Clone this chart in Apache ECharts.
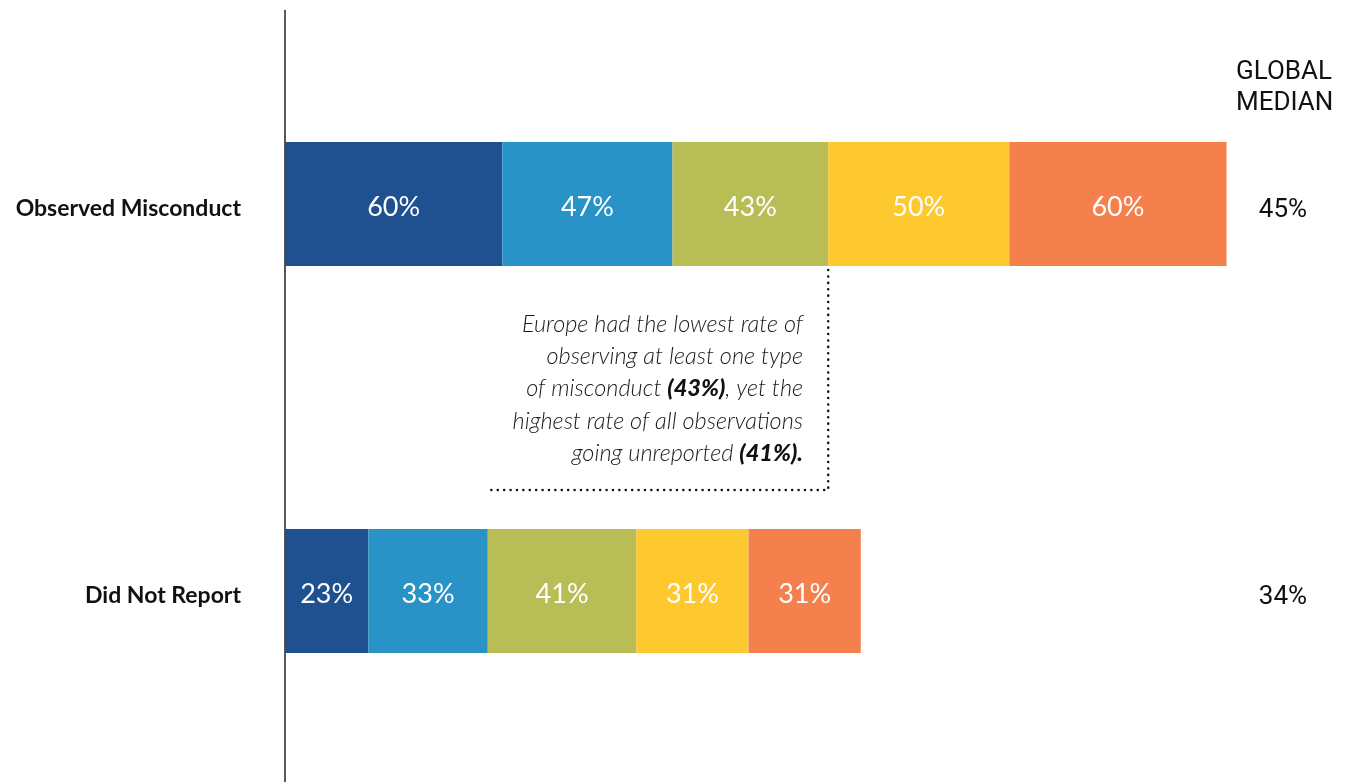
<!DOCTYPE html>
<html>
<head>
<meta charset="utf-8">
<script src="https://cdn.jsdelivr.net/npm/echarts@6/dist/echarts.min.js"></script>
<style>
  html, body { margin: 0; padding: 0; background: #fff; overflow: hidden; }
  #chart { width: 1369px; height: 790px; }
</style>
</head>
<body>
<div id="chart"></div>
<script>
var categories = ['Observed Misconduct', 'Did Not Report']
var regionNames = ['Region A', 'Region B', 'Europe', 'Region D', 'Region E']
var regionColors = ['#1f508f', '#2993c7', '#b8bd56', '#fec82f', '#f4804d']
// one array per region: [observed, did not report]
var regionValues = [
    [60, 23],
    [47, 33],
    [43, 41],
    [50, 31],
    [60, 31]
]
var globalMedian = [45, 34]

var myChart = echarts.init(document.getElementById('chart'))

var series = []
for (var i = 0; i < regionNames.length; i++) {
    series.push({
        name: regionNames[i],
        type: 'bar',
        stack: 'all',
        barWidth: 124,
        itemStyle: { color: regionColors[i] },
        label: {
            show: true,
            position: 'inside',
            offset: [0, 3],
            color: '#fff',
            fontFamily: 'Lato',
            fontWeight: 'normal',
            fontSize: 27,
            formatter: '{c}%'
        },
        data: regionValues[i]
    })
}

var option = {
    animation: false,
    grid: { left: 285, right: 70, top: 10.5, height: 774 },
    xAxis: {
        type: 'value',
        min: 0,
        max: 280,
        show: false
    },
    yAxis: [
        {
            type: 'category',
            inverse: true,
            data: categories,
            axisLine: { show: true, lineStyle: { color: '#222', width: 1.5 } },
            axisTick: { show: false },
            axisLabel: {
                margin: 44,
                formatter: function (v) { return '{c|' + v + '}' },
                rich: {
                    c: {
                        padding: [10, 0, 0, 0],
                        color: '#111',
                        fontFamily: 'Lato',
                        fontWeight: 'bold',
                        fontSize: 23
                    }
                }
            }
        },
        {
            type: 'category',
            inverse: true,
            position: 'right',
            offset: -16,
            data: globalMedian.map(function (v) { return v + '%' }),
            axisLine: { show: false },
            axisTick: { show: false },
            axisLabel: {
                margin: 0,
                align: 'center',
                formatter: function (v) { return '{m|' + v + '}' },
                rich: {
                    m: {
                        padding: [13, 0, 0, 0],
                        color: '#111',
                        fontFamily: 'Roboto',
                        fontSize: 26
                    }
                }
            }
        }
    ],
    series: series
}
myChart.setOption(option)

// annotation anchored to the end of the Europe segment
var europeEnd = regionValues[0][0] + regionValues[1][0] + regionValues[2][0]
var p = myChart.convertToPixel({ gridIndex: 0 }, [europeEnd, 0])
var barBottom = p[1] + 62

myChart.setOption({
    graphic: [
        {
            type: 'text',
            left: 1236,
            top: 57,
            style: {
                text: 'GLOBAL\nMEDIAN',
                fill: '#111',
                font: '26px Roboto',
                lineHeight: 31
            }
        },
        {
            type: 'polyline',
            shape: { points: [[p[0], barBottom + 4], [p[0], barBottom + 224], [490, barBottom + 224]] },
            style: { stroke: '#111', lineWidth: 2.5, lineDash: [0.1, 6.3], lineCap: 'round', fill: null }
        },
        {
            type: 'text',
            x: 803,
            y: 308,
            style: {
                text: 'Europe had the lowest rate of\nobserving at least one type\nof misconduct {b|(43%)}, yet the\nhighest rate of all observations\ngoing unreported {b|(41%).}',
                align: 'right',
                fill: '#1a1a1a',
                fontFamily: 'Lato',
                fontStyle: 'italic',
                fontWeight: 300,
                fontSize: 23.5,
                lineHeight: 32.3,
                rich: {
                    b: {
                        fontFamily: 'Lato',
                        fontStyle: 'italic',
                        fontWeight: 900,
                        fontSize: 23.5,
                        lineHeight: 32.3,
                        fill: '#111'
                    }
                }
            }
        }
    ]
})
</script>
</body>
</html>
